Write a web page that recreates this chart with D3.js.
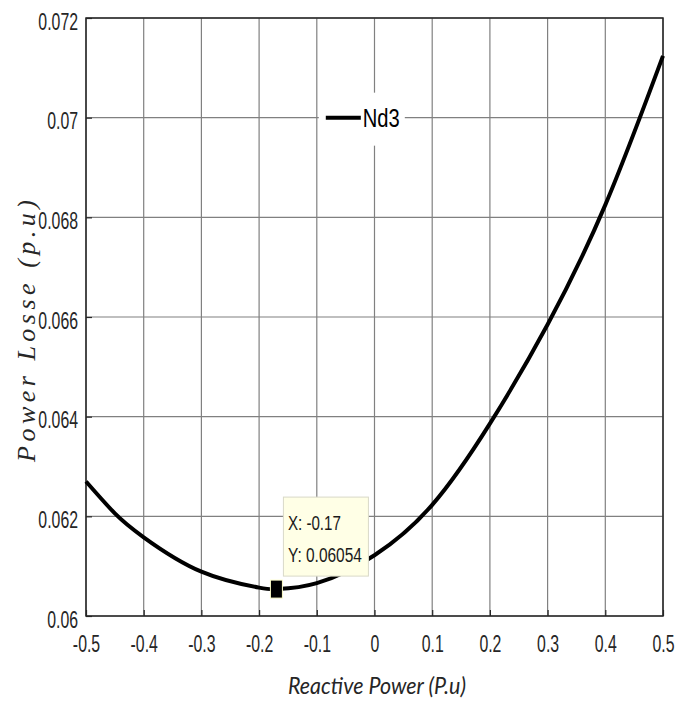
<!DOCTYPE html>
<html>
<head>
<meta charset="utf-8">
<script src="https://cdn.jsdelivr.net/npm/d3@7"></script>
<style>
  body { margin: 0; background: #fff; }
  svg { display: block; }
</style>
</head>
<body>
<svg width="686" height="705"></svg>
<script>
// Curve: reactive power (x) vs power loss (y)
var reactive = [-0.5, -0.45, -0.4, -0.3, -0.2, -0.17, -0.1, 0, 0.1, 0.2, 0.3, 0.4, 0.5];
var losses = [0.06270, 0.06206, 0.06158, 0.06089, 0.06057, 0.06054, 0.06066, 0.06122, 0.06223, 0.06386, 0.06585, 0.06825, 0.07124];

// Axis ticks and labels
var xTicks = [-0.5, -0.4, -0.3, -0.2, -0.1, 0, 0.1, 0.2, 0.3, 0.4, 0.5];
var xLabels = ['-0.5', '-0.4', '-0.3', '-0.2', '-0.1', '0', '0.1', '0.2', '0.3', '0.4', '0.5'];
var yTicks = [0.06, 0.062, 0.064, 0.066, 0.068, 0.07, 0.072];
var yLabels = ['0.06', '0.062', '0.064', '0.066', '0.068', '0.07', '0.072'];

// Data tip shown on the chart
var tipX = -0.17;
var tipY = 0.06054;

var seriesName = 'Nd3';

var svg = d3.select('svg');

var margin = { top: 18, right: 23, bottom: 89, left: 86 };
var width = 686 - margin.left - margin.right;
var height = 705 - margin.top - margin.bottom;

var x = d3.scaleLinear().domain([-0.5, 0.5]).range([0, width]);
var y = d3.scaleLinear().domain([0.06, 0.072]).range([height, 0]);

var g = svg.append('g')
  .attr('transform', 'translate(' + margin.left + ',' + margin.top + ')');

var tickFont = '"Liberation Sans", Arial, sans-serif';
var squeeze = 0.66;

// Grid lines
g.append('g')
  .selectAll('line')
  .data(xTicks)
  .enter()
  .append('line')
  .attr('x1', function (d) { return x(d); })
  .attr('x2', function (d) { return x(d); })
  .attr('y1', 0)
  .attr('y2', height)
  .attr('stroke', '#808080')
  .attr('stroke-width', 1.2);

g.append('g')
  .selectAll('line')
  .data(yTicks)
  .enter()
  .append('line')
  .attr('x1', 0)
  .attr('x2', width)
  .attr('y1', function (d) { return y(d); })
  .attr('y2', function (d) { return y(d); })
  .attr('stroke', '#808080')
  .attr('stroke-width', 1.2);

// Axes: ticks point inside, labels squeezed horizontally
var xAxis = g.append('g')
  .attr('transform', 'translate(0,' + height + ')')
  .call(d3.axisBottom(x).tickValues(xTicks).tickSize(-6).tickSizeOuter(0)
    .tickFormat(function (d, i) { return xLabels[i]; }));

var yAxis = g.append('g')
  .call(d3.axisLeft(y).tickValues(yTicks).tickSize(-6).tickSizeOuter(0)
    .tickFormat(function (d, i) { return yLabels[i]; }));

[xAxis, yAxis].forEach(function (ax) {
  ax.select('.domain').remove();
  ax.selectAll('.tick line').attr('stroke', '#262626').attr('stroke-width', 1.2);
  ax.selectAll('.tick text')
    .attr('fill', '#262626')
    .style('font-family', tickFont)
    .style('font-size', '24px');
});

xAxis.selectAll('.tick text')
  .attr('y', 19)
  .attr('dy', '0.71em')
  .attr('transform', 'scale(' + squeeze + ',1)');

yAxis.selectAll('.tick text')
  .attr('x', -8 / squeeze)
  .attr('dy', '0.46em')
  .attr('transform', 'scale(' + squeeze + ',1)');

// Box around the plot
g.append('rect')
  .attr('width', width)
  .attr('height', height)
  .attr('fill', 'none')
  .attr('stroke', '#262626')
  .attr('stroke-width', 1.5);

// Legend (white background hides the grid behind it)
var legend = g.append('g')
  .attr('transform', 'translate(' + (x(-0.1) + 2) + ',' + (y(0.07) - 25) + ')');

legend.append('rect')
  .attr('width', 86)
  .attr('height', 53)
  .attr('fill', '#fff');

legend.append('line')
  .attr('x1', 7)
  .attr('x2', 42)
  .attr('y1', 25)
  .attr('y2', 25)
  .attr('stroke', '#000')
  .attr('stroke-width', 4);

legend.append('text')
  .attr('x', 44)
  .attr('y', 34)
  .attr('textLength', 37)
  .attr('lengthAdjust', 'spacingAndGlyphs')
  .style('font-family', tickFont)
  .style('font-size', '25px')
  .attr('fill', '#000')
  .text(seriesName);

// Curve
var line = d3.line()
  .x(function (d, i) { return x(reactive[i]); })
  .y(function (d) { return y(d); })
  .curve(d3.curveNatural);

g.append('path')
  .datum(losses)
  .attr('fill', 'none')
  .attr('stroke', '#000')
  .attr('stroke-width', 4)
  .attr('stroke-linejoin', 'round')
  .attr('d', line);

// Data tip marker and box
var mx = x(tipX);
var my = y(tipY);

g.append('rect')
  .attr('x', mx - 6)
  .attr('y', my - 9)
  .attr('width', 12)
  .attr('height', 18)
  .attr('fill', '#000')
  .attr('stroke', '#ffffcc')
  .attr('stroke-width', 1);

var tip = g.append('g')
  .attr('transform', 'translate(' + (mx + 7) + ',' + (my - 92) + ')');

tip.append('rect')
  .attr('width', 85)
  .attr('height', 79)
  .attr('fill', '#ffffe6')
  .attr('stroke', '#d9d9c8')
  .attr('stroke-width', 1);

tip.append('text')
  .attr('x', 4.5)
  .attr('y', 33)
  .attr('textLength', 53)
  .attr('lengthAdjust', 'spacingAndGlyphs')
  .style('font-family', tickFont)
  .style('font-size', '20px')
  .attr('fill', '#1a1a1a')
  .text('X: ' + tipX);

tip.append('text')
  .attr('x', 4.5)
  .attr('y', 65)
  .attr('textLength', 74)
  .attr('lengthAdjust', 'spacingAndGlyphs')
  .style('font-family', tickFont)
  .style('font-size', '20px')
  .attr('fill', '#1a1a1a')
  .text('Y: ' + tipY);

// Axis titles
svg.append('text')
  .attr('x', 377)
  .attr('y', 694)
  .attr('text-anchor', 'middle')
  .attr('textLength', 178)
  .attr('lengthAdjust', 'spacingAndGlyphs')
  .style('font-family', 'Lato, "Open Sans", sans-serif')
  .style('font-style', 'italic')
  .style('font-size', '23px')
  .attr('fill', '#262626')
  .text('Reactive Power (P.u)');

svg.append('text')
  .attr('transform', 'translate(35,331) rotate(-90)')
  .attr('text-anchor', 'middle')
  .attr('textLength', 262)
  .attr('lengthAdjust', 'spacing')
  .style('font-family', '"Liberation Serif", "DejaVu Serif", serif')
  .style('font-style', 'italic')
  .style('font-size', '26px')
  .attr('fill', '#262626')
  .text('Power Losse (p.u)');
</script>
</body>
</html>
